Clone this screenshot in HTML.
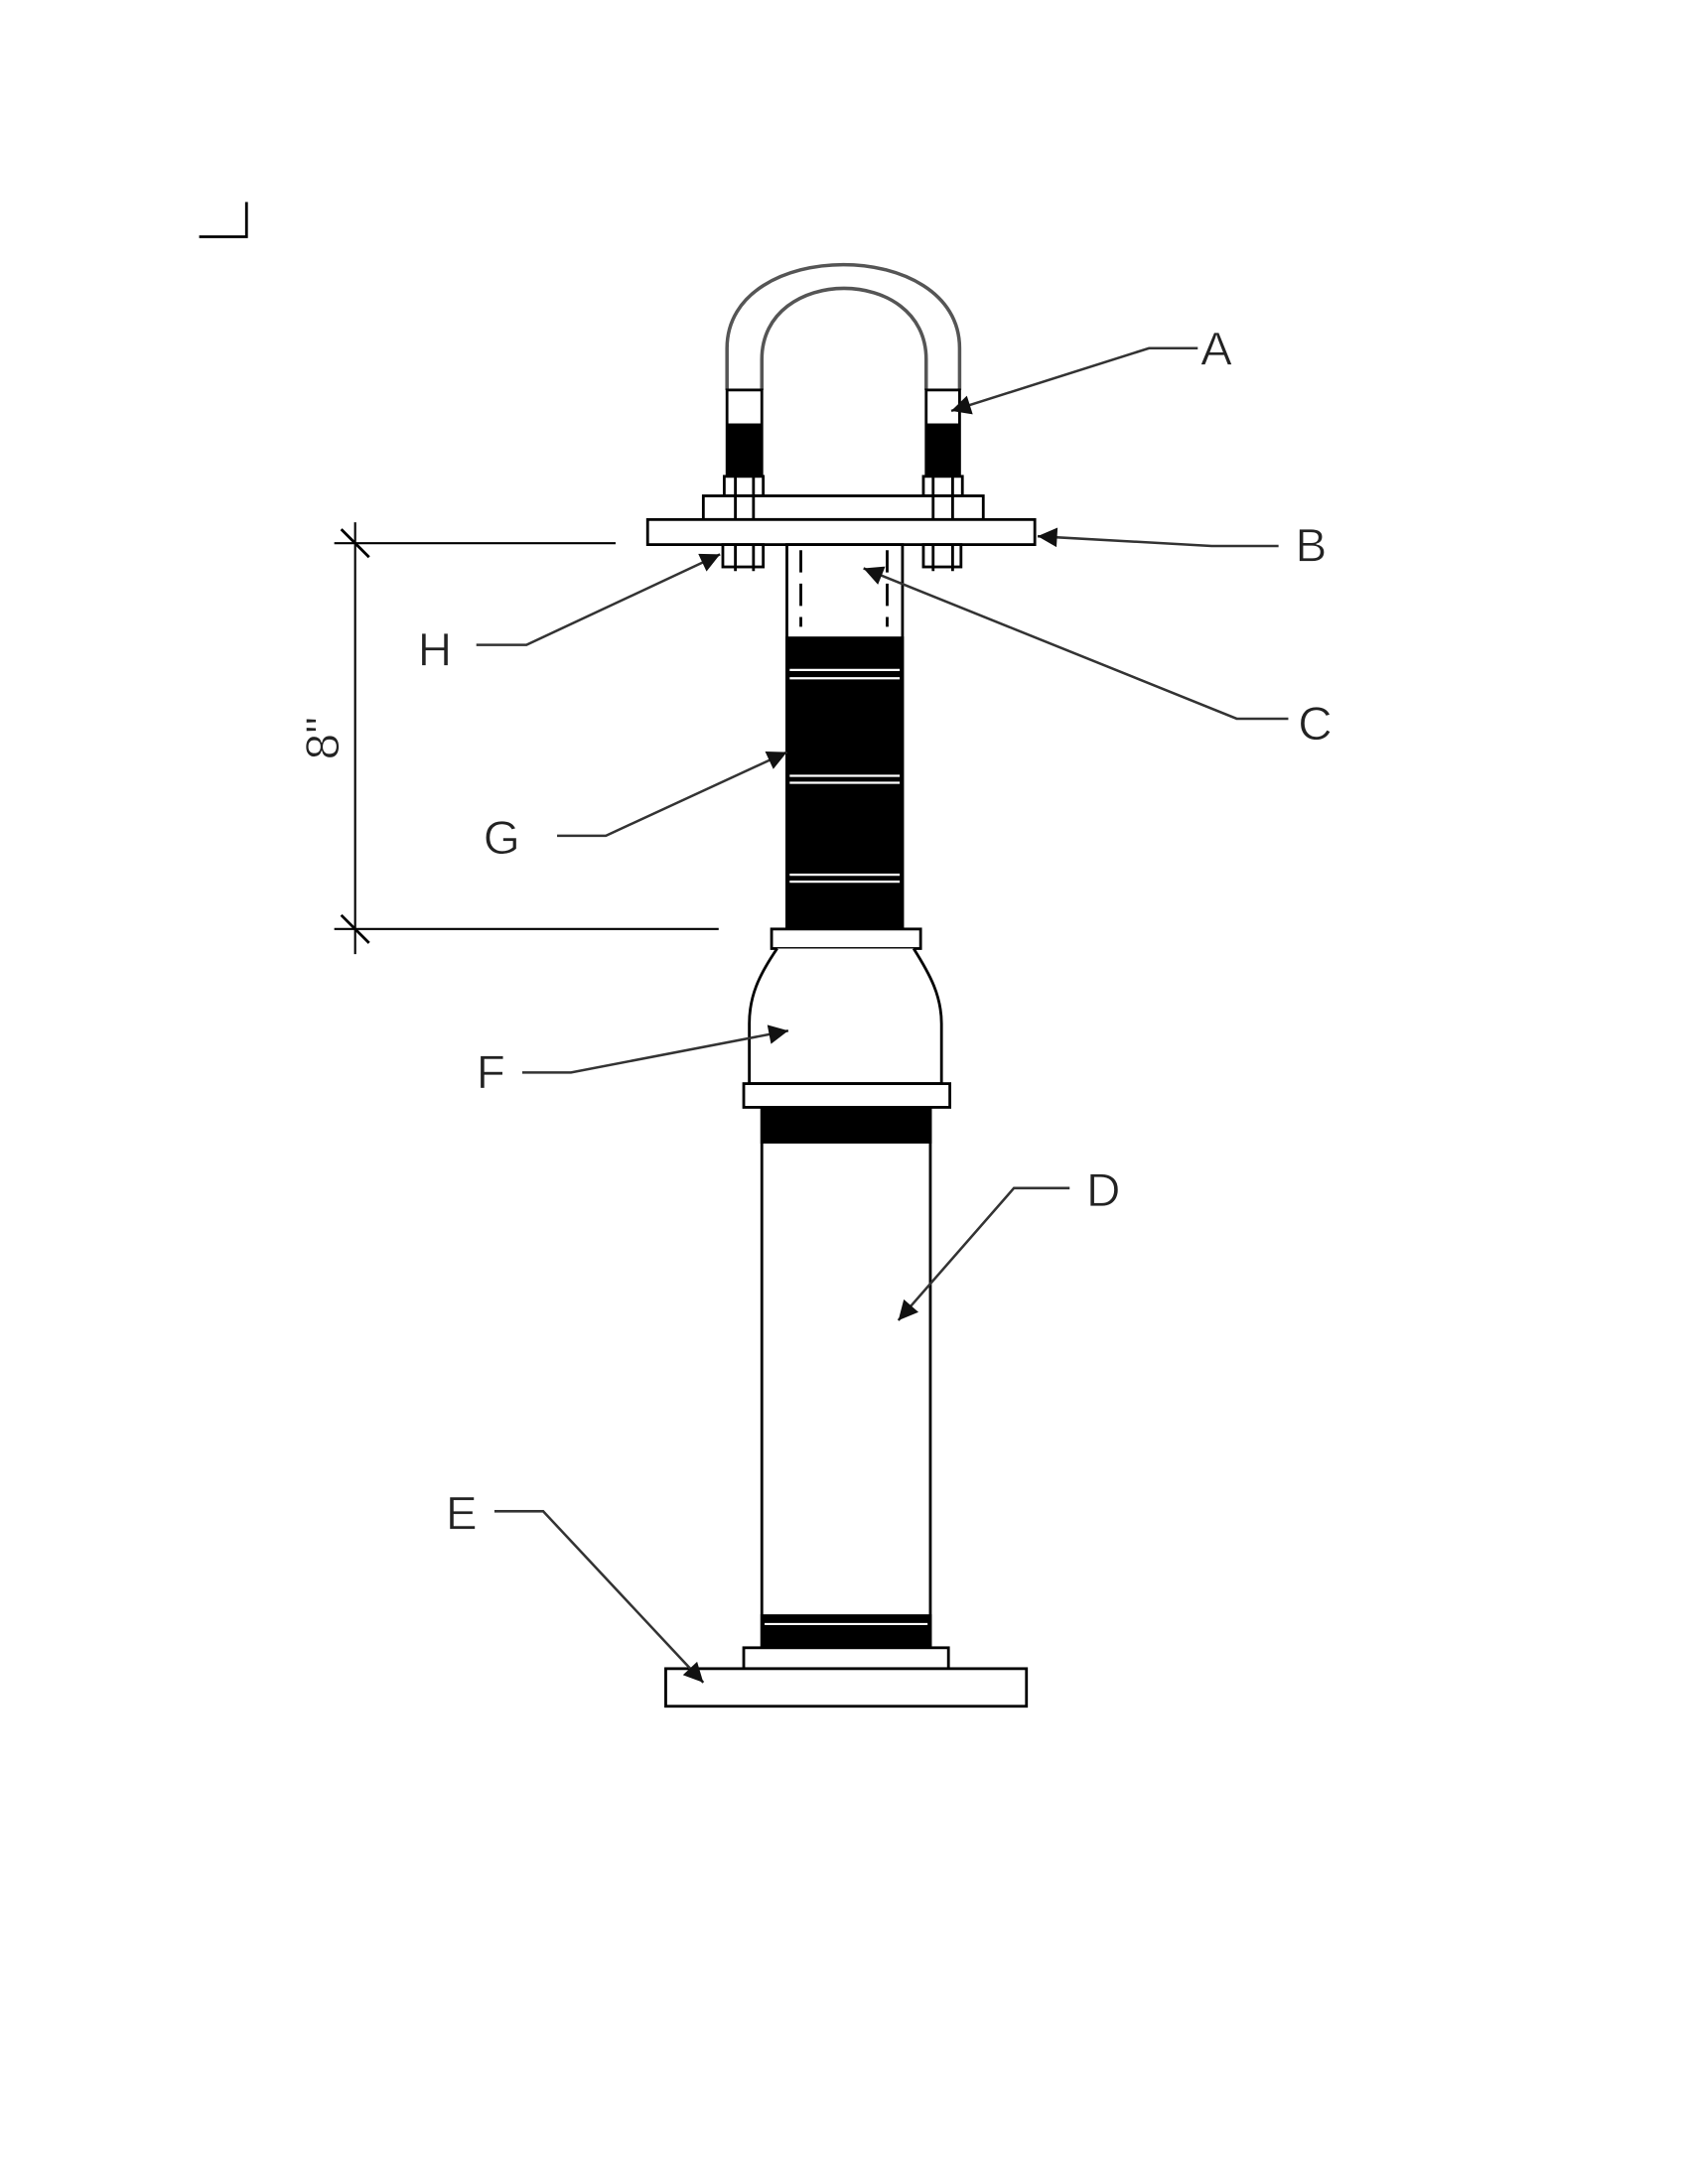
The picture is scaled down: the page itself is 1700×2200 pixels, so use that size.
<!DOCTYPE html>
<html><head><meta charset="utf-8"><style>
html,body{margin:0;padding:0;background:#fff}
svg{display:block}
text{font-family:"Liberation Sans",sans-serif;font-size:34px;fill:#222}
</style></head><body>
<svg width="1700" height="2200" viewBox="0 0 1212 1568" preserveAspectRatio="none" xmlns="http://www.w3.org/2000/svg">
<defs>
<marker id="ar2" viewBox="0 0 10 10" refX="10" refY="5" markerWidth="28" markerHeight="14" orient="auto" markerUnits="userSpaceOnUse">
<path d="M0,0 L10,5 L0,10 z" fill="#111"/></marker>
</defs>
<g fill="none" stroke="#000" stroke-width="2">
<path d="M177,145 V170 H143"/>
<path d="M522,280 V250 C522,170 689,170 689,250 V280" stroke="#555" stroke-width="2.5"/>
<path d="M547,280 V258 C547,190 665,190 665,258 V280" stroke="#555" stroke-width="2.5"/>
<rect x="522" y="280" width="25" height="62" fill="#fff"/>
<rect x="665" y="280" width="24" height="62" fill="#fff"/>
<rect x="523" y="305" width="23" height="37" fill="#000"/>
<rect x="666" y="305" width="22" height="37" fill="#000"/>
<rect x="520" y="342" width="28" height="14" fill="#fff"/>
<rect x="663" y="342" width="28" height="14" fill="#fff"/>
<rect x="505" y="356" width="201" height="17" fill="#fff"/>
<line x1="528" y1="342" x2="528" y2="373"/><line x1="541" y1="342" x2="541" y2="373"/>
<line x1="670" y1="342" x2="670" y2="373"/><line x1="684" y1="342" x2="684" y2="373"/>
<rect x="465" y="373" width="278" height="18" fill="#fff"/>
<rect x="519" y="391" width="29" height="16" fill="#fff"/>
<rect x="663" y="391" width="27" height="16" fill="#fff"/>
<line x1="528" y1="391" x2="528" y2="410"/><line x1="541" y1="391" x2="541" y2="410"/>
<line x1="670" y1="391" x2="670" y2="410"/><line x1="684" y1="391" x2="684" y2="410"/>
<rect x="565" y="391" width="83" height="276" fill="#fff"/>
<line x1="575" y1="395" x2="575" y2="450" stroke-dasharray="16,8"/>
<line x1="637" y1="395" x2="637" y2="450" stroke-dasharray="16,8"/>
<rect x="565" y="458" width="83" height="209" fill="#000"/>
<g stroke="#fff" stroke-width="1.6">
<line x1="567" y1="481" x2="646" y2="481"/><line x1="567" y1="487" x2="646" y2="487"/>
<line x1="567" y1="557" x2="646" y2="557"/><line x1="567" y1="562" x2="646" y2="562"/>
<line x1="567" y1="628" x2="646" y2="628"/><line x1="567" y1="633" x2="646" y2="633"/>
</g>
<rect x="554" y="667" width="107" height="14" fill="#fff"/>
<path d="M558,681 C545,700 538,715 538,735 V778 H676 V735 C676,715 668,700 656,681" fill="#fff"/>
<rect x="534" y="778" width="148" height="17" fill="#fff"/>
<rect x="547" y="795" width="121" height="388" fill="#fff"/>
<rect x="547" y="795" width="121" height="25" fill="#000"/>
<rect x="547" y="1160" width="121" height="23" fill="#000"/>
<line x1="549" y1="1166" x2="666" y2="1166" stroke="#fff" stroke-width="1.5"/>
<rect x="534" y="1183" width="147" height="15" fill="#fff"/>
<rect x="478" y="1198" width="259" height="27" fill="#fff"/>
<line x1="255" y1="375" x2="255" y2="685" stroke-width="1.5"/>
<line x1="240" y1="390" x2="442" y2="390" stroke-width="1.5"/>
<line x1="240" y1="667" x2="516" y2="667" stroke-width="1.5"/>
<line x1="245" y1="380" x2="265" y2="400" stroke-width="2"/>
<line x1="245" y1="657" x2="265" y2="677" stroke-width="2"/>
</g>
<g fill="none" stroke="#333" stroke-width="1.8" marker-end="url(#ar2)">
<path d="M860,250 H825 L683,295"/>
<path d="M918,392 H870 L745,385"/>
<path d="M925,516 H888 L620,408"/>
<path d="M342,463 H378 L517,398"/>
<path d="M400,600 H435 L565,540"/>
<path d="M375,770 H410 L566,740"/>
<path d="M768,853 H728 L645,948"/>
<path d="M355,1085 H390 L505,1208"/>
</g>
<g stroke="#fff" stroke-width="0.6">
<text x="862" y="262">A</text>
<text x="930" y="403">B</text>
<text x="932" y="531">C</text>
<text x="780" y="866">D</text>
<text x="320" y="1098">E</text>
<text x="342" y="781">F</text>
<text x="347" y="613">G</text>
<text x="300" y="478">H</text>
<text transform="translate(243,530) rotate(-90)" text-anchor="middle">8"</text>
</g>
</svg>
</body></html>
